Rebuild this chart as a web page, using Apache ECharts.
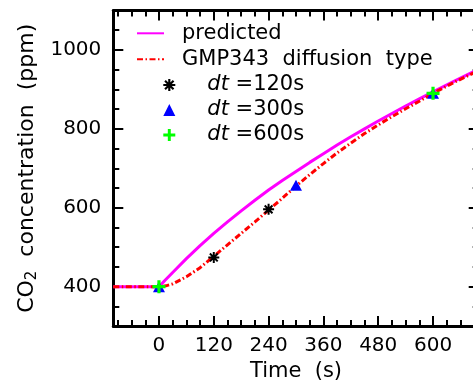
<!DOCTYPE html>
<html>
<head>
<meta charset="utf-8">
<script src="https://cdn.jsdelivr.net/npm/echarts@6/dist/echarts.min.js"></script>
<style>
html,body{margin:0;padding:0;background:#fff;}
#chart{width:473px;height:385px;}
</style>
</head>
<body>
<div id="chart"></div>
<script>
// ---- data ----
const timeGrid = [-100, 0, 15, 30, 60, 90, 120, 150, 180, 210, 240, 270, 300, 330, 360, 390, 420, 450, 480, 510, 540, 570, 600, 650, 700];
const predicted = [400, 400, 418, 436, 471, 504, 535, 564, 592, 619, 645, 669, 692, 715, 737, 759, 780, 800, 820, 839, 858, 876, 894, 923, 951];
const gmp343 = [400, 400, 402, 407, 425, 448, 477, 506, 535, 564, 594, 624, 655, 684, 712, 739, 764, 788, 810, 831, 851, 870, 890, 920, 948];
const dt120Times = [120, 240];
const dt120Values = [474, 596];
const dt300Times = [0, 300, 600];
const dt300Values = [400, 657, 890];
const dt600Times = [0, 600];
const dt600Values = [400, 890];

const lineNames = ['predicted', 'GMP343  diffusion  type'];
const markerLabels = ['=120s', '=300s', '=600s'];
const markerNames = markerLabels.map(l => 'dt ' + l);

const xLabelTicks = [0, 120, 240, 360, 480, 600];
const xMinorTicks = [-90, -60, -30, 30, 60, 90, 150, 180, 210, 270, 300, 330, 390, 420, 450, 510, 540, 570, 630, 660, 690];
const yLabelTicks = [400, 600, 800, 1000];
const yMinorTicks = [350, 450, 500, 550, 650, 700, 750, 850, 900, 950, 1050];
const X_MIN = -100, X_MAX = 700, Y_MIN = 300, Y_MAX = 1100;

// ---- chart ----
const FONT = 'DejaVu Sans';
const asteriskPath = 'path://M-1.8 -10L1.8 -10L1.8 10L-1.8 10Z M-10 -1.8L10 -1.8L10 1.8L-10 1.8Z M5.8 -8.35L8.35 -5.8L-5.8 8.35L-8.35 5.8Z M-8.35 -5.8L-5.8 -8.35L8.35 5.8L5.8 8.35Z';
const plusPath = 'path://M-1.6 -6.5L1.6 -6.5L1.6 -1.6L6.5 -1.6L6.5 1.6L1.6 1.6L1.6 6.5L-1.6 6.5L-1.6 1.6L-6.5 1.6L-6.5 -1.6L-1.6 -1.6Z';

const pair = (xs, ys) => xs.map((x, i) => [x, ys[i]]);

function mkAxis(base, pos, ticks, len, showLine, labels, extra) {
  return Object.assign({
    type: 'value', position: pos, min: base[0], max: base[1],
    splitLine: {show: false},
    axisLine: {show: showLine, onZero: false, lineStyle: {color: '#000', width: 3}},
    axisTick: {show: true, inside: true, length: len, customValues: ticks, lineStyle: {color: '#000', width: 2}},
    axisLabel: labels ? labels : {show: false},
    minorTick: {show: false}
  }, extra || {});
}

const labelStyle = {fontFamily: FONT, fontSize: 20, color: '#000', formatter: v => String(v)};

const chart = echarts.init(document.getElementById('chart'), null, {renderer: 'canvas'});
chart.setOption({
  animation: false,
  backgroundColor: '#fff',
  grid: {left: 113.3, top: 10.5, width: 365.4, height: 315.6, outerBoundsMode: 'none', containLabel: false},
  xAxis: [
    mkAxis([X_MIN, X_MAX], 'bottom', xLabelTicks, 10, true,
      Object.assign({show: true, customValues: xLabelTicks, margin: 10}, labelStyle),
      {name: 'Time  (s)', nameLocation: 'middle', nameGap: 33,
       nameTextStyle: {fontFamily: FONT, fontSize: 21, color: '#000'}}),
    mkAxis([X_MIN, X_MAX], 'bottom', xMinorTicks, 6, false, null),
    mkAxis([X_MIN, X_MAX], 'top', xLabelTicks, 10, true, null),
    mkAxis([X_MIN, X_MAX], 'top', xMinorTicks, 6, false, null)
  ],
  yAxis: [
    mkAxis([Y_MIN, Y_MAX], 'left', yLabelTicks, 10, true,
      Object.assign({show: true, customValues: yLabelTicks, margin: 12}, labelStyle),
      {name: '{n|CO}{s|2}{n|  concentration  (ppm)}', nameLocation: 'middle', nameGap: 72,
       nameTextStyle: {fontFamily: FONT, fontSize: 22, color: '#000',
         rich: {n: {fontFamily: FONT, fontSize: 22, color: '#000'},
                s: {fontFamily: FONT, fontSize: 15, color: '#000', padding: [10, 0, 0, 0]}}}}),
    mkAxis([Y_MIN, Y_MAX], 'left', yMinorTicks, 6, false, null),
    mkAxis([Y_MIN, Y_MAX], 'right', yLabelTicks, 10, true, null),
    mkAxis([Y_MIN, Y_MAX], 'right', yMinorTicks, 6, false, null)
  ],
  legend: [
    {
      data: lineNames, orient: 'vertical', left: 136, top: 20.8, padding: 0,
      itemWidth: 27, itemHeight: 14, itemGap: 1, selectedMode: false,
      itemStyle: {opacity: 0},
      textStyle: {fontFamily: FONT, fontSize: 21, color: '#000', lineHeight: 25, padding: [0, 0, 0, 13]}
    },
    {
      data: [
        {name: markerNames[0], icon: asteriskPath},
        {name: markerNames[1], icon: 'triangle'},
        {name: markerNames[2], icon: plusPath}
      ],
      orient: 'vertical', left: 163.3, top: 72.5, padding: 0,
      itemWidth: 12, itemHeight: 12, itemGap: 0, selectedMode: false,
      formatter: function (name) {
        const i = markerNames.indexOf(name);
        return '{i|dt} {n|' + markerLabels[i] + '}';
      },
      textStyle: {fontFamily: FONT, fontSize: 21, color: '#000', lineHeight: 25, padding: [0, 0, 0, 27],
        rich: {i: {fontFamily: FONT, fontSize: 21, fontStyle: 'italic', color: '#000', lineHeight: 25},
               n: {fontFamily: FONT, fontSize: 21, color: '#000', lineHeight: 25}}}
    }
  ],
  series: [
    {
      name: lineNames[0], type: 'line', xAxisIndex: 0, yAxisIndex: 0,
      data: pair(timeGrid, predicted), symbol: 'none', smooth: false,
      lineStyle: {color: '#ff00ff', width: 3}, itemStyle: {color: '#ff00ff'}, z: 2
    },
    {
      name: lineNames[1], type: 'line', xAxisIndex: 0, yAxisIndex: 0,
      data: pair(timeGrid, gmp343), symbol: 'none', smooth: false,
      lineStyle: {color: '#ff0000', width: 3, type: [6, 2.5, 1.5, 2.5]}, itemStyle: {color: '#ff0000'}, z: 3
    },
    {
      name: markerNames[0], type: 'scatter', xAxisIndex: 0, yAxisIndex: 0,
      data: pair(dt120Times, dt120Values), symbol: asteriskPath, symbolSize: 11,
      itemStyle: {color: '#000', opacity: 1}, z: 4
    },
    {
      name: markerNames[1], type: 'scatter', xAxisIndex: 0, yAxisIndex: 0,
      data: pair(dt300Times, dt300Values), symbol: 'triangle', symbolSize: [12, 11],
      itemStyle: {color: '#0000ff', opacity: 1}, z: 5
    },
    {
      name: markerNames[2], type: 'scatter', xAxisIndex: 0, yAxisIndex: 0,
      data: pair(dt600Times, dt600Values), symbol: plusPath, symbolSize: 13,
      itemStyle: {color: '#00ff00', opacity: 1}, z: 6
    }
  ]
});
</script>
</body>
</html>
